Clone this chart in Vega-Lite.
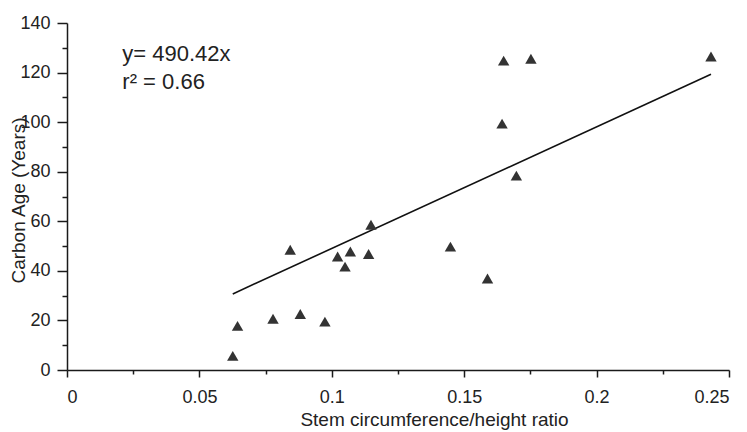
{
  "$schema": "https://vega.github.io/schema/vega-lite/v6.json",
  "autosize": "none",
  "width": 662,
  "height": 347,
  "padding": {"left": 67, "top": 23, "right": 18, "bottom": 62},
  "background": "white",
  "config": {
    "view": {"stroke": null},
    "font": "Liberation Sans",
    "axis": {
      "grid": false,
      "domainColor": "#1a1a1a",
      "domainWidth": 1.5,
      "tickColor": "#1a1a1a",
      "tickWidth": 1.5,
      "labelFont": "Liberation Sans",
      "labelFontSize": 18,
      "labelColor": "#222",
      "titleFont": "Liberation Sans",
      "titleFontSize": 19,
      "titleFontWeight": "normal",
      "titleColor": "#222"
    }
  },
  "datasets": {
    "points": [
      {"ratio": 0.0626, "age": 5.7},
      {"ratio": 0.0644, "age": 17.8},
      {"ratio": 0.0778, "age": 20.7},
      {"ratio": 0.0843, "age": 48.5},
      {"ratio": 0.0881, "age": 22.6},
      {"ratio": 0.0974, "age": 19.5},
      {"ratio": 0.1022, "age": 45.8},
      {"ratio": 0.1050, "age": 41.7},
      {"ratio": 0.1070, "age": 47.8},
      {"ratio": 0.1139, "age": 46.8},
      {"ratio": 0.1148, "age": 58.6},
      {"ratio": 0.1448, "age": 49.8},
      {"ratio": 0.1588, "age": 36.9},
      {"ratio": 0.1643, "age": 99.4},
      {"ratio": 0.1649, "age": 124.8},
      {"ratio": 0.1697, "age": 78.4},
      {"ratio": 0.1752, "age": 125.6},
      {"ratio": 0.2432, "age": 126.5}
    ],
    "fit": [
      {"ratio": 0.0626, "age": 30.7},
      {"ratio": 0.2432, "age": 119.3}
    ],
    "notes": [
      {"ratio": 0.0209, "age": 124.5, "label": "y= 490.42x"},
      {"ratio": 0.0209, "age": 113.5, "label": "r² = 0.66"}
    ]
  },
  "encoding": {
    "x": {
      "field": "ratio",
      "type": "quantitative",
      "scale": {"domain": [0, 0.25], "nice": false, "zero": false},
      "axis": {
        "title": "Stem circumference/height ratio",
        "values": [0, 0.025, 0.05, 0.075, 0.1, 0.125, 0.15, 0.175, 0.2, 0.225, 0.25],
        "labelExpr": "round(datum.value*40) % 2 == 0 ? format(datum.value, '~g') : ''",
        "tickSize": {"condition": {"test": "round(datum.value*40) % 2 == 0", "value": 7}, "value": 4},
        "labelPadding": 11,
        "titleX": 367,
        "titleY": 55,
        "titleBaseline": "alphabetic",
        "titleAnchor": "start",
        "titleAlign": "center"
      }
    },
    "y": {
      "field": "age",
      "type": "quantitative",
      "scale": {"domain": [0, 140], "nice": false},
      "axis": {
        "title": "Carbon Age (Years)",
        "values": [0, 10, 20, 30, 40, 50, 60, 70, 80, 90, 100, 110, 120, 130, 140],
        "labelExpr": "datum.value % 20 == 0 ? datum.label : ''",
        "tickSize": {"condition": {"test": "datum.value % 20 == 0", "value": 10}, "value": 5},
        "labelPadding": 7,
        "titleAngle": -90,
        "titleX": -43,
        "titleY": 177,
        "titleBaseline": "alphabetic",
        "titleAlign": "center"
      }
    }
  },
  "layer": [
    {
      "data": {"name": "fit"},
      "mark": {"type": "line", "color": "#111", "strokeWidth": 1.6}
    },
    {
      "data": {"name": "points"},
      "mark": {"type": "point", "shape": "triangle-up", "filled": true, "size": 130, "color": "#333", "opacity": 1}
    },
    {
      "data": {"name": "notes"},
      "mark": {"type": "text", "align": "left", "baseline": "alphabetic", "fontSize": 22, "color": "#222", "font": "Liberation Sans"},
      "encoding": {"text": {"field": "label"}}
    }
  ]
}
